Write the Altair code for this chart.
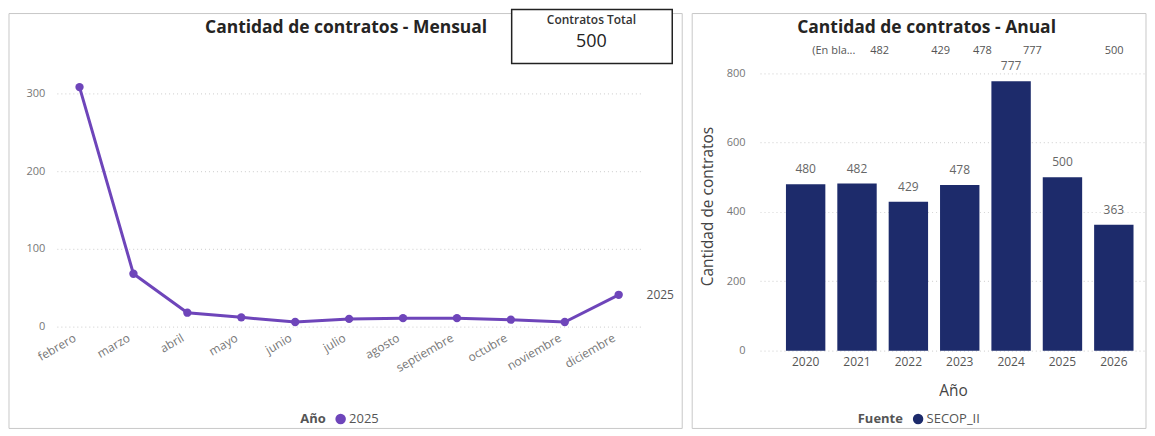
import altair as alt
import pandas as pd

# ---------------- data ----------------
meses = ["febrero", "marzo", "abril", "mayo", "junio", "julio", "agosto",
         "septiembre", "octubre", "noviembre", "diciembre"]
contratos_mes = [308, 68, 18, 12, 6, 10, 11, 11, 9, 6, 41]
serie_anio = "2025"

anios = ["2020", "2021", "2022", "2023", "2024", "2025", "2026"]
contratos_anio = [480, 482, 429, 478, 777, 500, 363]
fuente = "SECOP_II"

total_contratos = 500
fila_superior = ["(En bla...", "482", "429", "478", "777", "500"]

titulo_mes = "Cantidad de contratos - Mensual"
titulo_anio = "Cantidad de contratos - Anual"

FONT = "Open Sans"
PURPLE = "#6E45BA"
NAVY = "#1D2B6B"
GRID = "#d6d6d6"
BORDER = "#c8c8c8"

df_mes = pd.DataFrame({"mes": meses, "contratos": contratos_mes,
                       "Año": [serie_anio] * len(meses)})
df_anio = pd.DataFrame({"anio": anios, "contratos": contratos_anio,
                        "Fuente": [fuente] * len(anios)})

one = pd.DataFrame({"k": [0]})

# ---------------- left panel: monthly line ----------------
LW, H = 586, 290

x_mes = alt.X("mes:N", sort=meses, scale=alt.Scale(type="point", padding=0.42), axis=None)
y_mes = alt.Y("contratos:Q",
              scale=alt.Scale(domain=[-30.8, 341], nice=False, zero=False),
              axis=alt.Axis(values=[0, 100, 200, 300], grid=True, gridDash=[1, 3],
                            gridColor=GRID, gridWidth=1.2, domain=False, ticks=False,
                            labelColor="#777", labelFontSize=11, labelPadding=12,
                            title=None))

base_mes = alt.Chart(df_mes).encode(x=x_mes, y=y_mes)

border_l = alt.Chart(one).mark_rect(fillOpacity=0, stroke=BORDER, strokeWidth=1).encode(
    x=alt.value(-48), x2=alt.value(627), y=alt.value(-48), y2=alt.value(368))

line = base_mes.mark_line(strokeWidth=3, color=PURPLE)
points = base_mes.mark_point(filled=True, size=70, opacity=1).encode(
    color=alt.Color("Año:N", scale=alt.Scale(range=[PURPLE]),
                    legend=alt.Legend(orient="none", legendX=244, legendY=352,
                                      direction="horizontal", titleOrient="left",
                                      symbolType="circle", symbolSize=110,
                                      titleFontSize=13, labelFontSize=13,
                                      titleColor="#555", labelColor="#555",
                                      titleFont=FONT, labelFont=FONT,
                                      titleFontWeight="bold", titlePadding=8,
                                      labelOffset=2)))

month_labels = base_mes.mark_text(angle=330, align="right", baseline="top",
                                  fontSize=12, color="#777", font=FONT, dx=-8).encode(
    y=alt.value(268), text="mes:N")

end_label = base_mes.transform_filter(alt.datum.mes == meses[-1]).mark_text(
    align="left", baseline="middle", dx=28, fontSize=12, color="#555", font=FONT).encode(
    text="Año:N")

title_l = alt.Chart(pd.DataFrame({"t": [titulo_mes]})).mark_text(
    fontSize=17.5, fontWeight="bold", color="#252423", font=FONT).encode(
    text="t:N", x=alt.value(290), y=alt.value(-33))

kpi_box = alt.Chart(one).mark_rect(fill="white", stroke="#222", strokeWidth=1.5).encode(
    x=alt.value(456), x2=alt.value(617), y=alt.value(-52), y2=alt.value(2))
kpi_title = alt.Chart(pd.DataFrame({"t": ["Contratos Total"]})).mark_text(
    fontSize=12, fontWeight=600, color="#333", font=FONT).encode(
    text="t:N", x=alt.value(536), y=alt.value(-42))
kpi_value = alt.Chart(pd.DataFrame({"v": [total_contratos]})).mark_text(
    fontSize=18, color="#222", font=FONT).encode(
    text="v:Q", x=alt.value(536), y=alt.value(-19))

left = alt.layer(border_l, line, points, month_labels, end_label, title_l,
                 kpi_box, kpi_title, kpi_value).properties(width=LW, height=H)

# ---------------- right panel: yearly bars ----------------
RW = 387

x_anio = alt.X("anio:N", sort=anios,
               scale=alt.Scale(paddingInner=0.233, paddingOuter=0.374, align=0.675),
               axis=alt.Axis(title="Año", labelAngle=0, domain=False, ticks=False,
                             labelColor="#555", labelFontSize=12, labelPadding=6,
                             titleFontSize=15.5, titleFontWeight="normal",
                             titleColor="#444", titlePadding=16))
y_anio = alt.Y("contratos:Q", scale=alt.Scale(domain=[0, 834], nice=False),
               axis=alt.Axis(values=[0, 200, 400, 600, 800], grid=True, gridDash=[1, 3],
                             gridColor=GRID, gridWidth=1.2, domain=False, ticks=False,
                             labelColor="#777", labelFontSize=11, labelPadding=15,
                             title="Cantidad de contratos", titleFontSize=15.5,
                             titleFontWeight="normal", titleColor="#444",
                             titlePadding=11))

base_anio = alt.Chart(df_anio).encode(x=x_anio, y=y_anio)

border_r = alt.Chart(one).mark_rect(fillOpacity=0, stroke=BORDER, strokeWidth=1).encode(
    x=alt.value(-68), x2=alt.value(387), y=alt.value(-48), y2=alt.value(368))
spacer = alt.Chart(one).mark_rule(opacity=0).encode(
    x=alt.value(0), y=alt.value(-52), y2=alt.value(-40))

bars = base_anio.mark_bar(opacity=1).encode(
    color=alt.Color("Fuente:N", scale=alt.Scale(range=[NAVY]),
                    legend=alt.Legend(orient="none", legendX=98, legendY=352,
                                      direction="horizontal", titleOrient="left",
                                      symbolType="circle", symbolSize=110,
                                      titleFontSize=13, labelFontSize=13,
                                      titleColor="#555", labelColor="#555",
                                      titleFont=FONT, labelFont=FONT,
                                      titleFontWeight="bold", titlePadding=8,
                                      labelOffset=2)))
bar_labels = base_anio.mark_text(baseline="bottom", dy=-8, fontSize=12,
                                 color="#666", font=FONT).encode(text="contratos:Q")

title_r = alt.Chart(pd.DataFrame({"t": [titulo_anio]})).mark_text(
    fontSize=17.5, fontWeight="bold", color="#252423", font=FONT).encode(
    text="t:N", x=alt.value(167), y=alt.value(-33))

top_x = [74, 120, 181, 223, 273, 355]
top_layers = [
    alt.Chart(pd.DataFrame({"t": [lbl]})).mark_text(
        fontSize=11, color="#555", font=FONT).encode(
        text="t:N", x=alt.value(px), y=alt.value(-10))
    for lbl, px in zip(fila_superior, top_x)
]

right = alt.layer(border_r, spacer, bars, bar_labels, title_r, *top_layers).properties(
    width=RW, height=H)

chart = alt.hconcat(left, right, spacing=8).resolve_scale(
    color="independent").properties(padding=0).configure(
    font=FONT, view=alt.ViewConfig(stroke=None))

chart.save("out.html", embed_options={"renderer": "svg", "actions": False})
